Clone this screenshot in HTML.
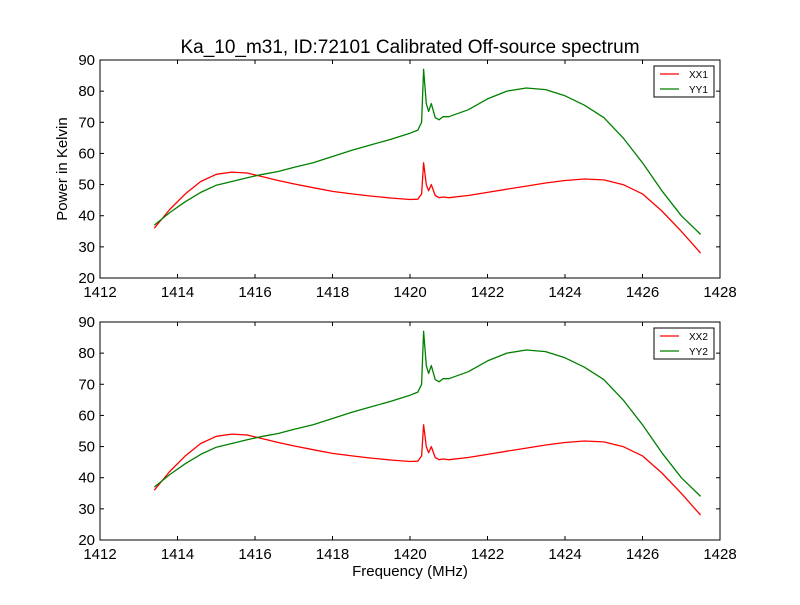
<!DOCTYPE html>
<html><head><meta charset="utf-8"><style>
body{margin:0;background:#fff;}
svg text{font-family:"Liberation Sans","DejaVu Sans",sans-serif;}
</style></head><body>
<svg id="c" width="800" height="600" xmlns="http://www.w3.org/2000/svg">
<rect width="800" height="600" fill="#fff"/>
<text x="410" y="53" font-size="19" text-anchor="middle">Ka_10_m31, ID:72101 Calibrated Off-source spectrum</text>
<text x="67" y="169" font-size="15" text-anchor="middle" transform="rotate(-90 67 169)">Power in Kelvin</text>
<text x="410" y="576" font-size="15" text-anchor="middle">Frequency (MHz)</text>
</svg>
<script>
const freqs=[1413.4,1413.8,1414.2,1414.6,1415.0,1415.4,1415.8,1416.2,1416.6,1417,1417.5,1418,1418.5,1419,1419.5,1420,1420.2,1420.3,1420.35,1420.42,1420.48,1420.55,1420.65,1420.75,1420.85,1421,1421.5,1422,1422.5,1423,1423.5,1424,1424.5,1425,1425.5,1426,1426.5,1427,1427.5];
const xxVals=[36,42,47,51,53.3,54,53.7,52.5,51.3,50.2,49,47.8,47,46.3,45.7,45.2,45.3,47,57,50,48,50,46.5,45.8,46,45.8,46.5,47.5,48.5,49.5,50.5,51.3,51.8,51.5,50,47,41.5,35,28];
const yyVals=[37,41,44.5,47.5,49.8,51,52.2,53.3,54.2,55.5,57,59,61,62.8,64.5,66.5,67.5,70,87,76,73.5,76,71.5,70.8,71.8,71.8,74,77.5,80,81,80.5,78.5,75.5,71.5,65,57,48,40,34];
const xTicks=[1412,1414,1416,1418,1420,1422,1424,1426,1428];
const yTicks=[20,30,40,50,60,70,80,90];
const panels=[{top:60,l1:'XX1',l2:'YY1',name:'top-panel'},{top:322,l1:'XX2',l2:'YY2',name:'bottom-panel'}];
const svg=document.getElementById('c');
const NS='http://www.w3.org/2000/svg';
function mk(t,a){const e=document.createElementNS(NS,t);for(const k in a)e.setAttribute(k,a[k]);return e;}
const L=100,R=720,H=218;
const xs=v=>L+(v-1412)/(1428-1412)*(R-L);
panels.forEach(p=>{
  const ys=v=>p.top+H-(v-20)/(90-20)*H;
  const g=mk('g',{});
  
  
  svg.appendChild(g);
  const mkLine=(vals,col,nm)=>{
    const d=freqs.map((f,i)=>(i?'L':'M')+xs(f).toFixed(1)+' '+ys(vals[i]).toFixed(1)).join(' ');
    const pa=mk('path',{d:d,fill:'none',stroke:col,'stroke-width':1.3,'stroke-linejoin':'round'});
    
    
    g.appendChild(pa);
  };
  mkLine(xxVals,'#ff0000','series-'+p.l1.toLowerCase());
  mkLine(yyVals,'#008000','series-'+p.l2.toLowerCase());
  g.appendChild(mk('rect',{x:L,y:p.top,width:R-L,height:H,fill:'none',stroke:'#000','stroke-width':1}));
  xTicks.forEach(t=>{
    const x=xs(t);
    g.appendChild(mk('line',{x1:x,x2:x,y1:p.top+H,y2:p.top+H-4,stroke:'#000'}));
    g.appendChild(mk('line',{x1:x,x2:x,y1:p.top,y2:p.top+4,stroke:'#000'}));
    const tx=mk('text',{x:x,y:p.top+H+19,'font-size':15,'text-anchor':'middle'});
    tx.textContent=t;
    
    
    g.appendChild(tx);
  });
  yTicks.forEach(t=>{
    const y=ys(t);
    g.appendChild(mk('line',{x1:L,x2:L+4,y1:y,y2:y,stroke:'#000'}));
    g.appendChild(mk('line',{x1:R,x2:R-4,y1:y,y2:y,stroke:'#000'}));
    const tx=mk('text',{x:L-5,y:y+5,'font-size':15,'text-anchor':'end'});
    tx.textContent=t;
    
    
    g.appendChild(tx);
  });
  const lg=mk('g',{});
  
  
  g.appendChild(lg);
  lg.appendChild(mk('rect',{x:654,y:p.top+6,width:60,height:31,fill:'#fff',stroke:'#000'}));
  [[p.l1,'#ff0000'],[p.l2,'#008000']].forEach((e,i)=>{
    const y=p.top+14+i*15;
    lg.appendChild(mk('line',{x1:660,x2:679,y1:y,y2:y,stroke:e[1],'stroke-width':1.3}));
    const tx=mk('text',{x:689,y:y+4,'font-size':10});
    tx.textContent=e[0];
    
    
    lg.appendChild(tx);
  });
});
</script>
</body></html>
